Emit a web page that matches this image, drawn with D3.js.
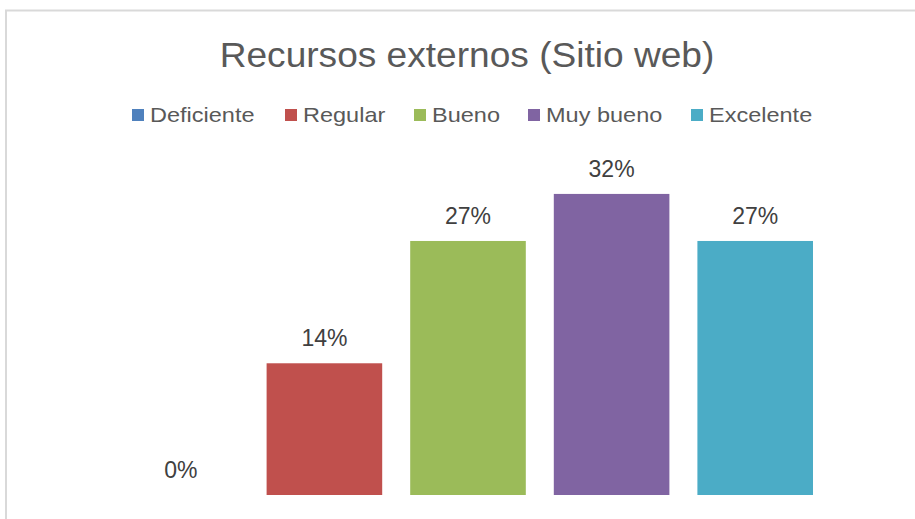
<!DOCTYPE html>
<html>
<head>
<meta charset="utf-8">
<script src="https://cdn.jsdelivr.net/npm/d3@7"></script>
<style>
  html, body { margin: 0; padding: 0; background: #fff; }
  svg { display: block; font-family: "Liberation Sans", Arial, sans-serif; }
</style>
</head>
<body>
<svg id="chart" width="915" height="519"></svg>
<script>
// Chart content
const title = "Recursos externos (Sitio web)";
const categories = ["Deficiente", "Regular", "Bueno", "Muy bueno", "Excelente"];
const values = [0, 0.14, 0.27, 0.32, 0.27];
const colors = ["#4f81bd", "#c0504d", "#9bbb59", "#8064a2", "#4bacc6"];
const yDomain = [0, 0.35];

const svg = d3.select("#chart");
const W = 915, H = 519;
const textColor = "#595959";

// chart frame
svg.append("path")
  .attr("d", `M6,${H + 2} V10.5 H${W + 2}`)
  .attr("fill", "none")
  .attr("stroke", "#d9d9d9")
  .attr("stroke-width", 2);

function placedText(sel, x, y, sx) {
  return sel.attr("transform", `translate(${x},${y}) scale(${sx},1)`);
}

// title
placedText(svg.append("text"), 467, 67, 1.06)
  .attr("text-anchor", "middle")
  .attr("font-size", 35)
  .attr("fill", textColor)
  .text(title);

// scales
const x = d3.scaleBand().domain(categories).range([109, 827]).paddingInner(0.195).paddingOuter(0.0975);
const y = d3.scaleLinear().domain(yDomain).range([495, 165.7]);

// legend
const legendX = [132, 285, 414, 528, 691];
const legend = svg.append("g").selectAll("g").data(categories).join("g");
legend.append("rect")
  .attr("x", (d, i) => legendX[i])
  .attr("y", 109)
  .attr("width", 12)
  .attr("height", 12)
  .attr("fill", (d, i) => colors[i]);
legend.append("text")
  .each(function(d, i) { placedText(d3.select(this), legendX[i] + 18, 122, 1.12); })
  .attr("font-size", 21)
  .attr("fill", textColor)
  .text(d => d);

// bars
svg.append("g").selectAll("rect").data(values).join("rect")
  .attr("x", (d, i) => x(categories[i]))
  .attr("y", d => y(d))
  .attr("width", x.bandwidth())
  .attr("height", d => y(0) - y(d))
  .attr("fill", (d, i) => colors[i]);

// value labels
svg.append("g").selectAll("text").data(values).join("text")
  .attr("x", (d, i) => x(categories[i]) + x.bandwidth() / 2)
  .attr("y", d => y(d) - 17)
  .attr("text-anchor", "middle")
  .attr("font-size", 23)
  .attr("fill", "#404040")
  .text(d => d3.format(".0%")(d));
</script>
</body>
</html>
